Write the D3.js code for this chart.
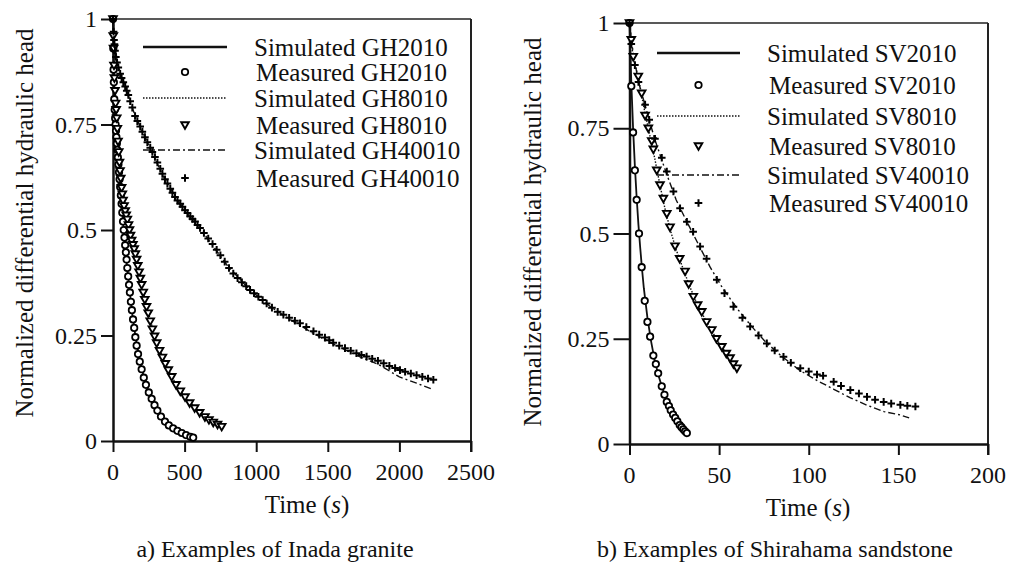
<!DOCTYPE html>
<html>
<head>
<meta charset="utf-8">
<script src="https://cdn.jsdelivr.net/npm/d3@7"></script>
</head>
<body style="margin:0;background:#fff">
<script>
// ---- data: a) Inada granite ----
var gh2010T = [0, 2, 4, 6, 9, 12, 15, 18, 21, 24, 27, 30, 34, 38, 42, 46, 50, 55, 60, 65, 70, 75, 80, 85, 90, 95, 100, 106, 112, 118, 125, 132, 140, 148, 156, 165, 175, 187, 200, 215, 230, 250, 270, 290, 310, 335, 363, 390, 420, 450, 480, 510, 540, 560];
var gh2010V = [1, 0.93, 0.88, 0.85, 0.81, 0.785, 0.765, 0.75, 0.735, 0.72, 0.705, 0.69, 0.672, 0.655, 0.637, 0.62, 0.602, 0.582, 0.562, 0.541, 0.52, 0.5, 0.482, 0.464, 0.447, 0.43, 0.41, 0.39, 0.37, 0.352, 0.33, 0.31, 0.288, 0.268, 0.246, 0.226, 0.206, 0.188, 0.17, 0.15, 0.133, 0.115, 0.1, 0.085, 0.072, 0.058, 0.046, 0.037, 0.03, 0.024, 0.019, 0.014, 0.01, 0.008];
var gh2010SimT = [0, 5, 15, 30, 50, 70, 90, 110, 135, 160, 200, 250, 300, 360, 420, 480, 560];
var gh2010SimV = [1, 0.87, 0.77, 0.69, 0.6, 0.52, 0.44, 0.375, 0.3, 0.24, 0.17, 0.115, 0.075, 0.047, 0.03, 0.02, 0.01];

var gh8010T = [0, 2, 4, 7, 10, 14, 18, 22, 26, 30, 35, 40, 45, 49, 54, 60, 65, 70, 77, 85, 92, 100, 108, 115, 122, 130, 139, 148, 156, 165, 173, 182, 191, 200, 211, 222, 234, 246, 260, 275, 290, 305, 325, 345, 365, 386, 410, 440, 470, 503, 535, 570, 605, 642, 670, 700, 730, 759];
var gh8010V = [1, 0.96, 0.93, 0.89, 0.86, 0.83, 0.8, 0.785, 0.765, 0.74, 0.71, 0.685, 0.66, 0.64, 0.622, 0.6, 0.585, 0.57, 0.557, 0.545, 0.535, 0.525, 0.512, 0.5, 0.487, 0.475, 0.465, 0.455, 0.443, 0.43, 0.415, 0.4, 0.385, 0.37, 0.352, 0.335, 0.318, 0.303, 0.284, 0.265, 0.248, 0.232, 0.214, 0.198, 0.183, 0.168, 0.152, 0.133, 0.118, 0.104, 0.09, 0.078, 0.067, 0.057, 0.05, 0.044, 0.039, 0.034];
var gh8010SimT = [0, 5, 15, 30, 50, 75, 100, 130, 165, 200, 250, 300, 380, 450, 520, 600, 680, 759];
var gh8010SimV = [1, 0.92, 0.82, 0.74, 0.635, 0.56, 0.52, 0.475, 0.43, 0.37, 0.3, 0.238, 0.172, 0.128, 0.098, 0.07, 0.05, 0.034];

var gh40010T = [0, 4, 7, 10, 14, 20, 28, 37, 50, 60, 72, 85, 96, 107, 120, 135, 154, 170, 190, 205, 223, 240, 260, 275, 293, 310, 330, 345, 363, 380, 400, 415, 433, 450, 470, 485, 503, 520, 540, 555, 573, 590, 608, 635, 665, 695, 724, 750, 780, 810, 840, 870, 900, 930, 957, 985, 1015, 1045, 1073, 1110, 1150, 1190, 1230, 1270, 1306, 1350, 1400, 1440, 1480, 1510, 1538, 1580, 1620, 1660, 1700, 1735, 1771, 1810, 1850, 1890, 1930, 1970, 2004, 2040, 2080, 2120, 2160, 2200, 2237];
var gh40010V = [1, 0.97, 0.95, 0.94, 0.925, 0.91, 0.897, 0.885, 0.87, 0.86, 0.85, 0.84, 0.83, 0.82, 0.805, 0.79, 0.77, 0.758, 0.745, 0.733, 0.72, 0.708, 0.695, 0.685, 0.673, 0.66, 0.645, 0.633, 0.62, 0.61, 0.598, 0.588, 0.578, 0.57, 0.562, 0.555, 0.547, 0.54, 0.532, 0.526, 0.52, 0.512, 0.505, 0.493, 0.48, 0.467, 0.453, 0.44, 0.425, 0.41, 0.397, 0.386, 0.376, 0.367, 0.358, 0.35, 0.342, 0.334, 0.326, 0.316, 0.306, 0.299, 0.292, 0.285, 0.279, 0.27, 0.26, 0.252, 0.245, 0.239, 0.233, 0.226, 0.22, 0.214, 0.208, 0.204, 0.2, 0.195, 0.19, 0.184, 0.178, 0.173, 0.168, 0.164, 0.16, 0.156, 0.152, 0.148, 0.145];
var gh40010SimT = [0, 10, 40, 80, 150, 250, 350, 450, 550, 650, 800, 950, 1100, 1250, 1400, 1550, 1700, 1850, 2000, 2120, 2237];
var gh40010SimV = [1, 0.94, 0.885, 0.845, 0.775, 0.7, 0.628, 0.57, 0.525, 0.485, 0.415, 0.36, 0.318, 0.285, 0.255, 0.228, 0.203, 0.182, 0.152, 0.137, 0.122];

// ---- data: b) Shirahama sandstone ----
var sv2010T = [0, 1, 2, 3, 4, 5.3, 6.8, 8.5, 10, 11.5, 13.3, 14.7, 16, 18, 19.5, 20.8, 22, 23, 24.3, 25.5, 26.7, 28, 29, 30, 31, 32];
var sv2010V = [1, 0.85, 0.74, 0.65, 0.58, 0.5, 0.42, 0.34, 0.29, 0.255, 0.21, 0.19, 0.168, 0.137, 0.117, 0.1, 0.09, 0.08, 0.07, 0.062, 0.054, 0.045, 0.04, 0.035, 0.03, 0.026];
var sv2010SimT = [0, 1, 2, 3, 4, 5, 6, 7, 8, 10, 12, 14, 16, 18, 20, 22, 24, 26, 28, 30, 32];
var sv2010SimV = [1, 0.86, 0.75, 0.66, 0.585, 0.52, 0.465, 0.415, 0.37, 0.3, 0.245, 0.2, 0.165, 0.137, 0.112, 0.09, 0.073, 0.058, 0.046, 0.035, 0.026];

var sv8010T = [0, 1, 2.1, 4.9, 6.8, 8.7, 10.5, 12.4, 13.3, 15.2, 17, 18.9, 20.8, 22.6, 25.4, 28, 31, 33, 35.6, 38, 40.3, 43, 45.9, 48.5, 51.5, 54, 56.1, 58, 59.9];
var sv8010V = [1, 0.96, 0.92, 0.873, 0.833, 0.78, 0.75, 0.72, 0.7, 0.65, 0.615, 0.583, 0.547, 0.515, 0.47, 0.44, 0.41, 0.38, 0.35, 0.33, 0.314, 0.29, 0.271, 0.25, 0.231, 0.215, 0.204, 0.19, 0.18];
var sv8010SimT = [0, 2, 5, 8, 11, 14, 17, 20, 23, 26, 30, 34, 38, 42, 46, 50, 54, 58, 60];
var sv8010SimV = [1, 0.92, 0.87, 0.8, 0.74, 0.68, 0.615, 0.555, 0.505, 0.462, 0.415, 0.37, 0.33, 0.298, 0.268, 0.24, 0.215, 0.192, 0.18];

var sv40010T = [0, 1, 3, 5, 8.7, 11, 14.2, 18, 20.8, 24.5, 28.2, 32, 35.5, 39.4, 43, 48.7, 53, 58, 63, 67.3, 72, 76.6, 81, 85.9, 90, 95.3, 100, 104.6, 108, 113.9, 118, 123.2, 128, 132.5, 137, 141.8, 146, 151.1, 155, 159.5];
var sv40010V = [1, 0.95, 0.9, 0.86, 0.806, 0.77, 0.725, 0.68, 0.647, 0.6, 0.56, 0.528, 0.504, 0.469, 0.44, 0.39, 0.358, 0.326, 0.3, 0.279, 0.258, 0.239, 0.222, 0.207, 0.193, 0.18, 0.172, 0.165, 0.162, 0.148, 0.138, 0.128, 0.12, 0.112, 0.105, 0.1, 0.096, 0.093, 0.091, 0.089];
var sv40010SimT = [0, 2, 5, 9, 14, 20, 26, 32, 38, 45, 52, 60, 68, 76, 85, 95, 105, 114, 123, 132, 142, 151, 156];
var sv40010SimV = [1, 0.93, 0.86, 0.8, 0.725, 0.65, 0.58, 0.528, 0.478, 0.42, 0.37, 0.322, 0.28, 0.242, 0.208, 0.175, 0.15, 0.13, 0.11, 0.093, 0.077, 0.069, 0.062];

var yTicks = [0, 0.25, 0.5, 0.75, 1];
var xTicksA = [0, 500, 1000, 1500, 2000, 2500];
var xTicksB = [0, 50, 100, 150, 200];

var WIDTH = 1010, HEIGHT = 564;

var svg = d3.select("body").append("svg")
    .attr("width", WIDTH)
    .attr("height", HEIGHT);

function zip(t, v) { return t.map((d, i) => [d, v[i]]); }

// marker shapes, drawn a bit heavy like the scanned figure
function marker(g, kind) {
    if (kind == "circle") {
        g.append("circle").attr("r", 3.2).attr("fill", "#fff").attr("stroke", "#000").attr("stroke-width", 1.8);
    } else if (kind == "tri") {
        g.append("path").attr("d", "M-3.8,-2.8L3.8,-2.8L0,3.8Z").attr("fill", "#fff").attr("stroke", "#000").attr("stroke-width", 1.9);
    } else {
        g.append("path").attr("d", "M-3.8,0H3.8M0,-3.8V3.8").attr("stroke", "#000").attr("stroke-width", 2);
    }
}

var styles = {
    solid: null,
    dotted: "1.5,1.5",
    dashdot: "7,3,2,3"
};

// every text node gets the serif face directly
function addText(parent, size) {
    return parent.append("text")
        .attr("font-family", "Liberation Serif")
        .attr("font-size", size)
        .attr("fill", "#111");
}

function drawPanel(p) {
    var x = d3.scaleLinear().domain(p.xDomain).range(p.xRange);
    var y = d3.scaleLinear().domain([0, 1]).range(p.yRange);
    var g = svg.append("g");

    // frame top/right
    g.append("line").attr("x1", x.range()[0]).attr("x2", x.range()[1])
        .attr("y1", y(1)).attr("y2", y(1)).attr("stroke", "#222").attr("stroke-width", 1.5);
    g.append("line").attr("x1", x.range()[1]).attr("x2", x.range()[1])
        .attr("y1", y(1)).attr("y2", y(0) + 11).attr("stroke", "#222").attr("stroke-width", 2);

    // axes: ticks from d3, labels placed as own text nodes
    var ax = g.append("g").attr("transform", `translate(0,${y(0)})`)
        .call(d3.axisBottom(x).tickValues(p.xTicks).tickSize(11).tickSizeOuter(0).tickFormat(""));
    var ay = g.append("g").attr("transform", `translate(${x(0)},0)`)
        .call(d3.axisLeft(y).tickValues(yTicks).tickSize(p.yTickLen).tickSizeOuter(0).tickFormat(""));
    [ax, ay].forEach(a => {
        a.select(".domain").attr("stroke", "#111").attr("stroke-width", 2.5);
        a.selectAll(".tick line").attr("stroke", "#111").attr("stroke-width", 2);
    });
    p.xTicks.forEach(v => {
        addText(g, 24).attr("x", x(v)).attr("y", y(0) + 39)
            .attr("text-anchor", "middle").text(String(v));
    });
    yTicks.forEach(v => {
        addText(g, 24).attr("x", x(0) - p.yTickLen - 4).attr("y", y(v) + 8)
            .attr("text-anchor", "end").text(String(v));
    });

    var line = d3.line().x(d => x(d[0])).y(d => y(d[1]));

    p.series.forEach(s => {
        // simulated curve
        g.append("path").datum(zip(s.simT, s.simV))
            .attr("d", line)
            .attr("fill", "none")
            .attr("stroke", "#111")
            .attr("stroke-width", s.line == "solid" ? 1.8 : 1.4)
            .attr("stroke-dasharray", styles[s.line]);
    });
    p.series.forEach(s => {
        // measured points
        g.selectAll(null).data(zip(s.t, s.v)).enter()
            .append("g")
            .attr("transform", d => `translate(${x(d[0])},${y(d[1])})`)
            .each(function() { marker(d3.select(this), s.mark); });
    });

    // legend
    var lg = g.append("g");
    p.series.forEach((s, i) => {
        var ySim = p.legY[i * 2], yMea = p.legY[i * 2 + 1];
        lg.append("line").attr("x1", p.legX[0]).attr("x2", p.legX[1])
            .attr("y1", ySim).attr("y2", ySim)
            .attr("stroke", "#111").attr("stroke-width", s.line == "solid" ? 2.6 : 1.5)
            .attr("stroke-dasharray", styles[s.line]);
        addText(lg, 25).attr("x", p.legText).attr("y", ySim + 8.5)
            .text("Simulated " + s.name);
        var m = lg.append("g").attr("transform", `translate(${(p.legX[0] + p.legX[1]) / 2},${yMea})`);
        marker(m, s.mark);
        addText(lg, 25).attr("x", p.legText + 2).attr("y", yMea + 8.5)
            .text("Measured " + s.name);
    });

    // titles
    var xt = addText(g, 25).attr("x", p.xTitle[0]).attr("y", p.xTitle[1])
        .attr("text-anchor", "middle");
    xt.append("tspan").text("Time (");
    xt.append("tspan").attr("font-style", "italic").text("s");
    xt.append("tspan").text(")");
    addText(g, 25).attr("transform", `translate(${p.yTitle[0]},${p.yTitle[1]}) rotate(-90)`)
        .attr("text-anchor", "middle")
        .text("Normalized differential hydraulic head");
    addText(g, 24).attr("x", p.caption[0]).attr("y", p.caption[1])
        .attr("text-anchor", "middle")
        .text(p.captionText);
}

drawPanel({
    xDomain: [0, 2500], xRange: [113, 471], yRange: [441, 19],
    xTicks: xTicksA, yTickLen: 12,
    series: [
        { name: "GH2010", t: gh2010T, v: gh2010V, simT: gh2010SimT, simV: gh2010SimV, line: "solid", mark: "circle" },
        { name: "GH8010", t: gh8010T, v: gh8010V, simT: gh8010SimT, simV: gh8010SimV, line: "dotted", mark: "tri" },
        { name: "GH40010", t: gh40010T, v: gh40010V, simT: gh40010SimT, simV: gh40010SimV, line: "dashdot", mark: "plus" }
    ],
    legX: [143, 227], legText: 254, legY: [47, 72, 98, 125, 150, 178],
    xTitle: [307, 513], yTitle: [33, 223], caption: [275, 557],
    captionText: "a) Examples of Inada granite"
});

drawPanel({
    xDomain: [0, 200], xRange: [629.5, 988], yRange: [444, 23],
    xTicks: xTicksB, yTickLen: 16,
    series: [
        { name: "SV2010", t: sv2010T, v: sv2010V, simT: sv2010SimT, simV: sv2010SimV, line: "solid", mark: "circle" },
        { name: "SV8010", t: sv8010T, v: sv8010V, simT: sv8010SimT, simV: sv8010SimV, line: "dotted", mark: "tri" },
        { name: "SV40010", t: sv40010T, v: sv40010V, simT: sv40010SimT, simV: sv40010SimV, line: "dashdot", mark: "plus" }
    ],
    legX: [657, 740], legText: 767, legY: [53, 85, 116, 146, 175, 203],
    xTitle: [808, 516], yTitle: [541, 232], caption: [775, 557],
    captionText: "b) Examples of Shirahama sandstone"
});
</script>
</body>
</html>
